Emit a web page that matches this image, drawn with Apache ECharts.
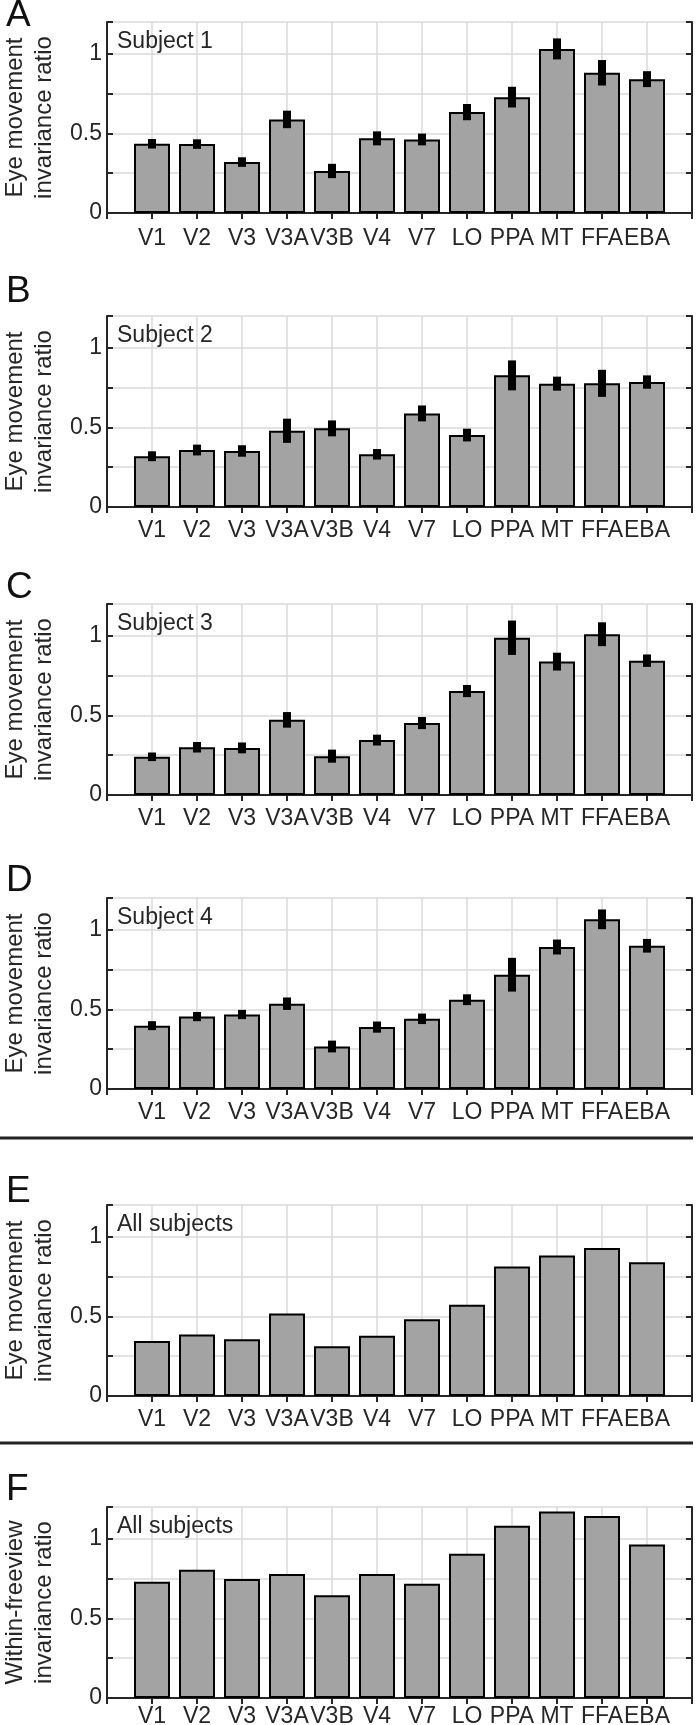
<!DOCTYPE html>
<html lang="en">
<head>
<meta charset="UTF-8">
<title>Eye movement invariance ratio</title>
<script src="https://cdn.jsdelivr.net/npm/echarts@6/dist/echarts.min.js"></script>
<style>
  html, body { margin: 0; padding: 0; background: #fff; }
  #chart { width: 697px; height: 1725px; }
</style>
</head>
<body>
<div id="chart"></div>
<script>
// visual areas on the x axis
const areas = ['V1', 'V2', 'V3', 'V3A', 'V3B', 'V4', 'V7', 'LO', 'PPA', 'MT', 'FFA', 'EBA'];

// per-subject means and half-length of the error bars
const subject1 = [0.435, 0.433, 0.320, 0.588, 0.264, 0.469, 0.462, 0.634, 0.728, 1.031, 0.881, 0.841];
const subject1Err = [0.030, 0.030, 0.030, 0.055, 0.045, 0.044, 0.037, 0.051, 0.065, 0.066, 0.080, 0.050];
const subject2 = [0.319, 0.358, 0.352, 0.479, 0.494, 0.331, 0.588, 0.452, 0.827, 0.775, 0.777, 0.785];
const subject2Err = [0.031, 0.034, 0.036, 0.076, 0.050, 0.033, 0.050, 0.040, 0.094, 0.044, 0.085, 0.042];
const subject3 = [0.240, 0.300, 0.296, 0.472, 0.244, 0.345, 0.452, 0.653, 0.988, 0.838, 1.010, 0.844];
const subject3Err = [0.027, 0.033, 0.034, 0.049, 0.041, 0.034, 0.038, 0.038, 0.108, 0.056, 0.075, 0.039];
const subject4 = [0.398, 0.455, 0.468, 0.536, 0.267, 0.389, 0.441, 0.561, 0.718, 0.892, 1.066, 0.900];
const subject4Err = [0.028, 0.029, 0.029, 0.039, 0.037, 0.035, 0.033, 0.034, 0.106, 0.047, 0.062, 0.043];

// all subjects pooled
const allEyeMovement = [0.346, 0.386, 0.357, 0.518, 0.313, 0.379, 0.482, 0.573, 0.814, 0.882, 0.930, 0.841];
const allWithinFreeview = [0.730, 0.806, 0.748, 0.779, 0.645, 0.779, 0.718, 0.907, 1.082, 1.171, 1.144, 0.965];

const yTickLabels = [0, 0.5, 1];
const panelLetters = ['A', 'B', 'C', 'D', 'E', 'F'];
const panelNotes = ['Subject 1', 'Subject 2', 'Subject 3', 'Subject 4', 'All subjects', 'All subjects'];
const eyeTitle = 'Eye movement\ninvariance ratio';
const freeTitle = 'Within-freeview\ninvariance ratio';

const panels = [
  { values: subject1, errs: subject1Err, title: eyeTitle },
  { values: subject2, errs: subject2Err, title: eyeTitle },
  { values: subject3, errs: subject3Err, title: eyeTitle },
  { values: subject4, errs: subject4Err, title: eyeTitle },
  { values: allEyeMovement, errs: null, title: eyeTitle },
  { values: allWithinFreeview, errs: null, title: freeTitle }
];

// layout (pixels)
const gridTops = [22, 316, 604, 898, 1205, 1507];
const letterY = [16, 292, 588, 881, 1192, 1490];
const labelMargin = [14, 12, 12, 12, 12, 7];
const gridH = 191;
const gridLeft = 107;
const gridRight = 5;

const FONT = 'Liberation Sans, Arial, Helvetica, sans-serif';
const INK = '#262626';
const GRID = '#dadada';

// pad the category axis so bars sit at 1..12 inside [0, 13]
const cats = [' '].concat(areas, ['  ']);

let chart = echarts.init(document.getElementById('chart'), null, { renderer: 'canvas' });

let grids = [], xAxes = [], yAxes = [], series = [], graphics = [];

panels.forEach(function (p, i) {
  grids.push({
    left: gridLeft, right: gridRight, top: gridTops[i], height: gridH,
    show: false, containLabel: false, outerBoundsMode: 'none'
  });

  // bottom axis with labels
  xAxes.push({
    type: 'category', gridIndex: i, data: cats, boundaryGap: false, position: 'bottom',
    axisLine: { show: true, lineStyle: { color: INK, width: 2 } },
    axisTick: { show: true, inside: true, length: 6, interval: 0, lineStyle: { color: INK, width: 2 } },
    axisLabel: {
      show: true, interval: 0, hideOverlap: false, margin: labelMargin[i],
      color: INK, fontSize: 23, fontFamily: FONT
    },
    splitLine: { show: true, interval: 0, lineStyle: { color: GRID, width: 1.5 } }
  });
  // top axis, ticks only
  xAxes.push({
    type: 'category', gridIndex: i, data: cats, boundaryGap: false, position: 'top',
    axisLine: { show: true, lineStyle: { color: INK, width: 2 } },
    axisTick: { show: true, inside: true, length: 6, interval: 0, lineStyle: { color: INK, width: 2 } },
    axisLabel: { show: false },
    splitLine: { show: false }
  });

  yAxes.push({
    type: 'value', gridIndex: i, min: 0, max: 1.2, interval: 0.25, position: 'left',
    name: p.title, nameLocation: 'middle', nameRotate: 90, nameGap: 48,
    nameTextStyle: { color: INK, fontSize: 24, fontFamily: FONT, lineHeight: 29 },
    axisLine: { show: true, lineStyle: { color: INK, width: 2 } },
    axisTick: { show: true, inside: true, length: 6, lineStyle: { color: INK, width: 2 } },
    axisLabel: {
      show: true, margin: 5, color: INK, fontSize: 23, fontFamily: FONT,
      formatter: function (v) { return yTickLabels.indexOf(v) >= 0 ? String(v) : ''; }
    },
    splitLine: { show: true, lineStyle: { color: GRID, width: 1.5 } }
  });
  yAxes.push({
    type: 'value', gridIndex: i, min: 0, max: 1.2, interval: 0.25, position: 'right',
    axisLine: { show: true, lineStyle: { color: INK, width: 2 } },
    axisTick: { show: true, inside: true, length: 6, lineStyle: { color: INK, width: 2 } },
    axisLabel: { show: false },
    splitLine: { show: false }
  });

  series.push({
    type: 'bar', xAxisIndex: 2 * i, yAxisIndex: 2 * i,
    data: ['-'].concat(p.values, ['-']),
    barWidth: '80%',
    itemStyle: { color: '#a3a3a3', borderColor: '#000', borderWidth: 2 },
    emphasis: { disabled: true },
    silent: true, animation: false
  });

  if (p.errs) {
    let errData = p.values.map(function (v, k) {
      return [k + 1, v - p.errs[k], v + p.errs[k]];
    });
    series.push({
      type: 'custom', xAxisIndex: 2 * i, yAxisIndex: 2 * i,
      data: errData, encode: { x: 0, y: [1, 2] }, z: 5,
      silent: true, animation: false,
      renderItem: function (params, api) {
        let lo = api.coord([api.value(0), api.value(1)]);
        let hi = api.coord([api.value(0), api.value(2)]);
        return {
          type: 'line',
          shape: { x1: lo[0], y1: lo[1], x2: hi[0], y2: hi[1] },
          style: { stroke: '#000', lineWidth: 8 }
        };
      }
    });
  }

  // panel letter
  graphics.push({
    type: 'text', x: 6, y: letterY[i],
    style: { text: panelLetters[i], fontSize: 37, fontFamily: FONT, fill: '#111', verticalAlign: 'middle' }
  });
  // note inside the axes
  graphics.push({
    type: 'text', x: 117, y: gridTops[i] + 20, z: 10,
    style: { text: panelNotes[i], fontSize: 23, fontFamily: FONT, fill: INK, verticalAlign: 'middle' }
  });
});

// separator rules between the subject panels and the pooled panels
[1138, 1443].forEach(function (yy) {
  graphics.push({
    type: 'line', shape: { x1: 0, y1: yy, x2: 693, y2: yy },
    style: { stroke: '#222', lineWidth: 3 }
  });
});

let options = {
  backgroundColor: '#fff',
  animation: false,
  grid: grids,
  xAxis: xAxes,
  yAxis: yAxes,
  series: series,
  graphic: graphics
};
chart.setOption(options);
</script>
</body>
</html>
